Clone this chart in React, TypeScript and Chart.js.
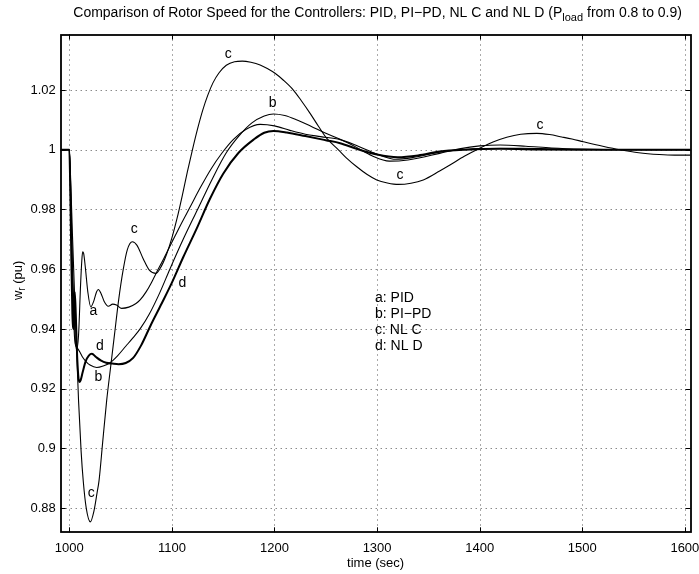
import React, { useEffect, useRef } from "react";
import { Chart, registerables } from "chart.js";

Chart.register(...registerables);

// ---------- axes ----------
const X_MIN = 991.6;
const X_MAX = 1605.5;
const Y_MIN = 0.8719;
const Y_MAX = 1.0386;
const xTicks = [1000, 1100, 1200, 1300, 1400, 1500, 1600];
const yTicks = [0.88, 0.9, 0.92, 0.94, 0.96, 0.98, 1.0, 1.02];

// ---------- a: PID ----------
const timeA = [991.6, 1000, 1001.5, 1003, 1005, 1007, 1009, 1011, 1012.2, 1013, 1014, 1015.5, 1018, 1020.9, 1024, 1026.5, 1028.3, 1031, 1034, 1038, 1042.3, 1046, 1051, 1058, 1065, 1069, 1075, 1080, 1084.5, 1092, 1100, 1108, 1118, 1128, 1138, 1149, 1160, 1172, 1186, 1200, 1215, 1230, 1245, 1264, 1280, 1295, 1305, 1318, 1335, 1361, 1380, 1400, 1440, 1470, 1500, 1605.5];
const speedA = [1.0, 1.0, 0.985, 0.962, 0.942, 0.933, 0.938, 0.955, 0.963, 0.9658, 0.9652, 0.961, 0.9525, 0.9474, 0.9495, 0.9524, 0.9532, 0.9518, 0.9492, 0.9476, 0.9483, 0.948, 0.9469, 0.9473, 0.9485, 0.9497, 0.9525, 0.9555, 0.9586, 0.9635, 0.969, 0.9745, 0.981, 0.9875, 0.9935, 0.999, 1.0035, 1.0068, 1.0085, 1.008, 1.0065, 1.0052, 1.0044, 1.0034, 1.0014, 0.9992, 0.9979, 0.9968, 0.9974, 0.9992, 0.9999, 1.0004, 1.0005, 1.0003, 1.0001, 1.0];

// ---------- b: PI-PD ----------
const timeB = [991.6, 1000, 1001.5, 1003, 1004.5, 1005.6, 1008, 1010.4, 1013, 1016.5, 1020.2, 1026.7, 1033, 1039.7, 1047, 1055, 1062, 1069, 1078, 1088, 1098, 1111, 1125, 1139, 1153, 1165, 1178, 1190, 1199, 1210, 1222, 1235, 1250, 1264, 1280, 1295, 1312, 1330, 1361, 1380, 1400, 1420, 1445, 1470, 1500, 1540, 1605.5];
const speedB = [1.0, 1.0, 0.98, 0.957, 0.941, 0.9352, 0.9335, 0.9322, 0.9305, 0.929, 0.9279, 0.9271, 0.9276, 0.9287, 0.931, 0.9342, 0.937, 0.94, 0.945, 0.952, 0.96, 0.97, 0.98, 0.99, 0.999, 1.0045, 1.009, 1.0113, 1.012, 1.0115, 1.01, 1.008, 1.0055, 1.0035, 1.0008, 0.998, 0.9962, 0.9966, 0.9988, 1.0003, 1.0013, 1.0016, 1.0012, 1.0006, 1.0002, 1.0, 1.0];

// ---------- c: NL C ----------
const timeC = [991.6, 1000, 1001.5, 1003, 1006, 1009, 1011.5, 1013.6, 1016.5, 1020.5, 1024, 1027, 1029, 1032.5, 1036.4, 1040, 1044, 1048, 1052.6, 1056.5, 1061.4, 1066, 1072, 1078, 1084.5, 1090, 1095, 1100, 1105, 1110, 1115, 1120, 1125, 1130, 1135, 1140, 1146, 1153, 1161, 1168.6, 1177, 1186, 1193, 1200.5, 1209, 1218.4, 1226, 1234.7, 1243, 1251, 1262.3, 1270, 1280.2, 1290, 1299.7, 1310, 1320.7, 1333, 1345, 1361, 1371, 1385, 1400, 1413, 1426.4, 1440, 1455.7, 1468, 1480, 1490, 1501, 1520, 1537, 1555, 1575, 1590, 1605.5];
const speedC = [1.0, 1.0, 0.988, 0.972, 0.943, 0.916, 0.899, 0.889, 0.88, 0.8754, 0.879, 0.885, 0.8893, 0.902, 0.916, 0.9265, 0.938, 0.9495, 0.96, 0.9665, 0.9692, 0.968, 0.9635, 0.9597, 0.9586, 0.9612, 0.9652, 0.9705, 0.977, 0.9845, 0.9925, 1.0, 1.007, 1.0132, 1.0183, 1.0224, 1.0258, 1.0283, 1.0295, 1.0297, 1.0293, 1.0284, 1.0272, 1.0256, 1.0232, 1.02, 1.0165, 1.0122, 1.0078, 1.0038, 1.0, 0.9973, 0.9943, 0.9918, 0.9899, 0.9889, 0.9884, 0.9888, 0.9899, 0.9929, 0.9949, 0.9978, 1.0005, 1.0026, 1.0042, 1.0052, 1.0055, 1.0051, 1.0043, 1.0036, 1.0027, 1.0012, 1.0, 0.999, 0.9984, 0.9982, 0.9982];

// ---------- d: NL D ----------
const timeD = [991.6, 1000, 1001, 1002, 1003, 1004.2, 1005.3, 1006.3, 1007.5, 1008.7, 1009.7, 1011, 1013, 1016, 1019, 1022, 1026, 1031, 1036, 1042, 1048, 1055, 1062, 1070, 1079, 1090, 1100, 1111, 1124, 1137, 1150, 1165, 1180, 1190, 1199, 1212, 1230, 1250, 1264, 1280, 1300, 1320, 1340, 1361, 1385, 1420, 1460, 1500, 1605.5];
const speedD = [1.0, 1.0, 0.985, 0.963, 0.945, 0.94, 0.9524, 0.945, 0.932, 0.9245, 0.9222, 0.9228, 0.9255, 0.9292, 0.9311, 0.9317, 0.9306, 0.9294, 0.9287, 0.9284, 0.9282, 0.9286, 0.9302, 0.9345, 0.941, 0.9485, 0.9555, 0.964, 0.9735, 0.9835, 0.992, 0.999, 1.0035, 1.0057, 1.0063, 1.0058, 1.0046, 1.0032, 1.0022, 1.0003, 0.9984, 0.9975, 0.9981, 0.9994, 1.0, 1.0003, 1.0001, 1.0, 1.0];

// ---------- text ----------
const curveLabels = [
  { text: "c", t: 1155.0, v: 1.0321 },
  { text: "b", t: 1198.3, v: 1.0155 },
  { text: "c", t: 1322.4, v: 0.9915 },
  { text: "c", t: 1458.9, v: 1.0083 },
  { text: "c", t: 1063.4, v: 0.9734 },
  { text: "d", t: 1110.2, v: 0.9555 },
  { text: "a", t: 1023.4, v: 0.9461 },
  { text: "d", t: 1029.9, v: 0.9343 },
  { text: "b", t: 1028.3, v: 0.924 },
  { text: "c", t: 1021.4, v: 0.8849 },
];
const legendLines = ["a: PID", "b: PI\u2212PD", "c: NL C", "d: NL D"];
const legendAnchor = { t: 1298, v: 0.9502 };
const titleMain = "Comparison of Rotor Speed for the Controllers: PID, PI\u2212PD, NL C and NL D (P";
const titleSub = "load";
const titleTail = " from 0.8 to 0.9)";
const xTitle = "time (sec)";
const yTitleMain = "w";
const yTitleSub = "r";
const yTitleTail = " (pu)";

const FONT = '"Liberation Sans", Arial, Helvetica, sans-serif';

function pts(t: number[], v: number[]) {
  const n = Math.min(t.length, v.length);
  const out: { x: number; y: number }[] = [];
  for (let i = 0; i < n; i++) out.push({ x: t[i], y: v[i] });
  return out;
}

const framePlugin = {
  id: "matlabFrame",
  beforeDatasetsDraw(chart: any) {
    const { ctx, chartArea: a, scales } = chart;
    const xs = scales.x;
    const ys = scales.y;
    ctx.save();
    ctx.strokeStyle = "#555";
    ctx.lineWidth = 1;
    ctx.setLineDash([1, 4]);
    xTicks.forEach((t) => {
      const px = Math.round(xs.getPixelForValue(t)) + 0.5;
      ctx.beginPath();
      ctx.moveTo(px, a.top);
      ctx.lineTo(px, a.bottom);
      ctx.stroke();
    });
    yTicks.forEach((v) => {
      const py = Math.round(ys.getPixelForValue(v)) + 0.5;
      ctx.beginPath();
      ctx.moveTo(a.left, py);
      ctx.lineTo(a.right, py);
      ctx.stroke();
    });
    ctx.restore();
  },
  afterDatasetsDraw(chart: any) {
    const { ctx, chartArea: a, scales } = chart;
    const xs = scales.x;
    const ys = scales.y;
    ctx.save();
    // ticks (inward, all four sides)
    ctx.strokeStyle = "#000";
    ctx.lineWidth = 1;
    ctx.setLineDash([]);
    const TL = 5;
    xTicks.forEach((t) => {
      const px = Math.round(xs.getPixelForValue(t)) + 0.5;
      ctx.beginPath();
      ctx.moveTo(px, a.bottom);
      ctx.lineTo(px, a.bottom - TL);
      ctx.moveTo(px, a.top);
      ctx.lineTo(px, a.top + TL);
      ctx.stroke();
    });
    yTicks.forEach((v) => {
      const py = Math.round(ys.getPixelForValue(v)) + 0.5;
      ctx.beginPath();
      ctx.moveTo(a.left, py);
      ctx.lineTo(a.left + TL, py);
      ctx.moveTo(a.right, py);
      ctx.lineTo(a.right - TL, py);
      ctx.stroke();
    });
    // box
    ctx.lineWidth = 1.8;
    ctx.strokeRect(Math.round(a.left), Math.round(a.top), Math.round(a.right) - Math.round(a.left), Math.round(a.bottom) - Math.round(a.top));

    // curve labels
    ctx.fillStyle = "#000";
    ctx.font = `14px ${FONT}`;
    ctx.textAlign = "center";
    ctx.textBaseline = "middle";
    curveLabels.forEach((l) => {
      ctx.fillText(l.text, xs.getPixelForValue(l.t), ys.getPixelForValue(l.v));
    });
    // legend text
    ctx.textAlign = "left";
    const lx = xs.getPixelForValue(legendAnchor.t);
    const ly = ys.getPixelForValue(legendAnchor.v);
    legendLines.forEach((s, i) => {
      ctx.fillText(s, lx, ly + i * 16);
    });

    // title
    const cx = (a.left + a.right) / 2;
    ctx.textBaseline = "alphabetic";
    ctx.font = `14px ${FONT}`;
    const w1 = ctx.measureText(titleMain).width;
    const w3 = ctx.measureText(titleTail).width;
    ctx.font = `11px ${FONT}`;
    const w2 = ctx.measureText(titleSub).width;
    const x0 = cx + 2 - (w1 + w2 + w3) / 2;
    const tb = 17;
    ctx.font = `14px ${FONT}`;
    ctx.fillText(titleMain, x0, tb);
    ctx.font = `11px ${FONT}`;
    ctx.fillText(titleSub, x0 + w1, tb + 4);
    ctx.font = `14px ${FONT}`;
    ctx.fillText(titleTail, x0 + w1 + w2, tb);

    // x title
    ctx.textAlign = "center";
    ctx.textBaseline = "alphabetic";
    ctx.font = `13px ${FONT}`;
    ctx.fillText(xTitle, cx, 567);

    // y title (rotated)
    const cy = (a.top + a.bottom) / 2 - 3;
    ctx.translate(21.5, cy);
    ctx.rotate(-Math.PI / 2);
    ctx.textAlign = "left";
    ctx.font = `13px ${FONT}`;
    const yw1 = ctx.measureText(yTitleMain).width;
    const yw3 = ctx.measureText(yTitleTail).width;
    ctx.font = `10px ${FONT}`;
    const yw2 = ctx.measureText(yTitleSub).width;
    const sx = -(yw1 + yw2 + yw3) / 2;
    ctx.font = `13px ${FONT}`;
    ctx.fillText(yTitleMain, sx, 0);
    ctx.font = `10px ${FONT}`;
    ctx.fillText(yTitleSub, sx + yw1, 3);
    ctx.font = `13px ${FONT}`;
    ctx.fillText(yTitleTail, sx + yw1 + yw2, 0);
    ctx.restore();
  },
};

export default function App() {
  const canvasRef = useRef<HTMLCanvasElement | null>(null);

  useEffect(() => {
    const canvas = canvasRef.current;
    if (!canvas) return;
    const mk = (data: { x: number; y: number }[], w: number) => ({
      data,
      borderColor: "#000",
      backgroundColor: "#000",
      borderWidth: w,
      pointRadius: 0,
      cubicInterpolationMode: "monotone" as const,
      fill: false,
    });
    const chart = new Chart(canvas, {
      type: "line",
      data: {
        datasets: [
          { label: "PID", ...mk(pts(timeA, speedA), 1.1) },
          { label: "PI-PD", ...mk(pts(timeB, speedB), 1.1) },
          { label: "NL C", ...mk(pts(timeC, speedC), 1.1) },
          { label: "NL D", ...mk(pts(timeD, speedD), 2) },
        ],
      },
      options: {
        animation: false,
        responsive: false,
        devicePixelRatio: 1,
        parsing: false as any,
        normalized: true,
        layout: { padding: { top: 34.5, right: 8.5, left: 0, bottom: 0 } },
        plugins: {
          legend: { display: false },
          title: { display: false },
          tooltip: { enabled: false },
        },
        scales: {
          x: {
            type: "linear",
            min: X_MIN,
            max: X_MAX,
            afterBuildTicks: (s: any) => {
              s.ticks = xTicks.map((v) => ({ value: v }));
            },
            afterFit: (s: any) => {
              s.height = 574 - 532.3;
              s.paddingLeft = 0;
              s.paddingRight = 0;
            },
            ticks: {
              autoSkip: false,
              maxRotation: 0,
              minRotation: 0,
              padding: 8,
              color: "#000",
              font: { size: 13, family: FONT },
              callback: (v: any) => String(v),
            },
            grid: { display: false, drawTicks: false },
            border: { display: false },
          },
          y: {
            type: "linear",
            min: Y_MIN,
            max: Y_MAX,
            afterBuildTicks: (s: any) => {
              s.ticks = yTicks.map((v) => ({ value: v }));
            },
            afterFit: (s: any) => {
              s.width = 60.7;
              s.paddingTop = 0;
              s.paddingBottom = 0;
            },
            ticks: {
              autoSkip: false,
              padding: 5,
              color: "#000",
              font: { size: 13, family: FONT },
              callback: (v: any) => String(Math.round(Number(v) * 100) / 100),
            },
            grid: { display: false, drawTicks: false },
            border: { display: false },
          },
        },
      },
      plugins: [framePlugin],
    });
    return () => chart.destroy();
  }, []);

  return (
    <div style={{ position: "absolute", left: 0, top: 0, width: 699, height: 574, background: "#fff" }}>
      <canvas ref={canvasRef} width={699} height={574} style={{ width: 699, height: 574, display: "block" }} />
    </div>
  );
}
